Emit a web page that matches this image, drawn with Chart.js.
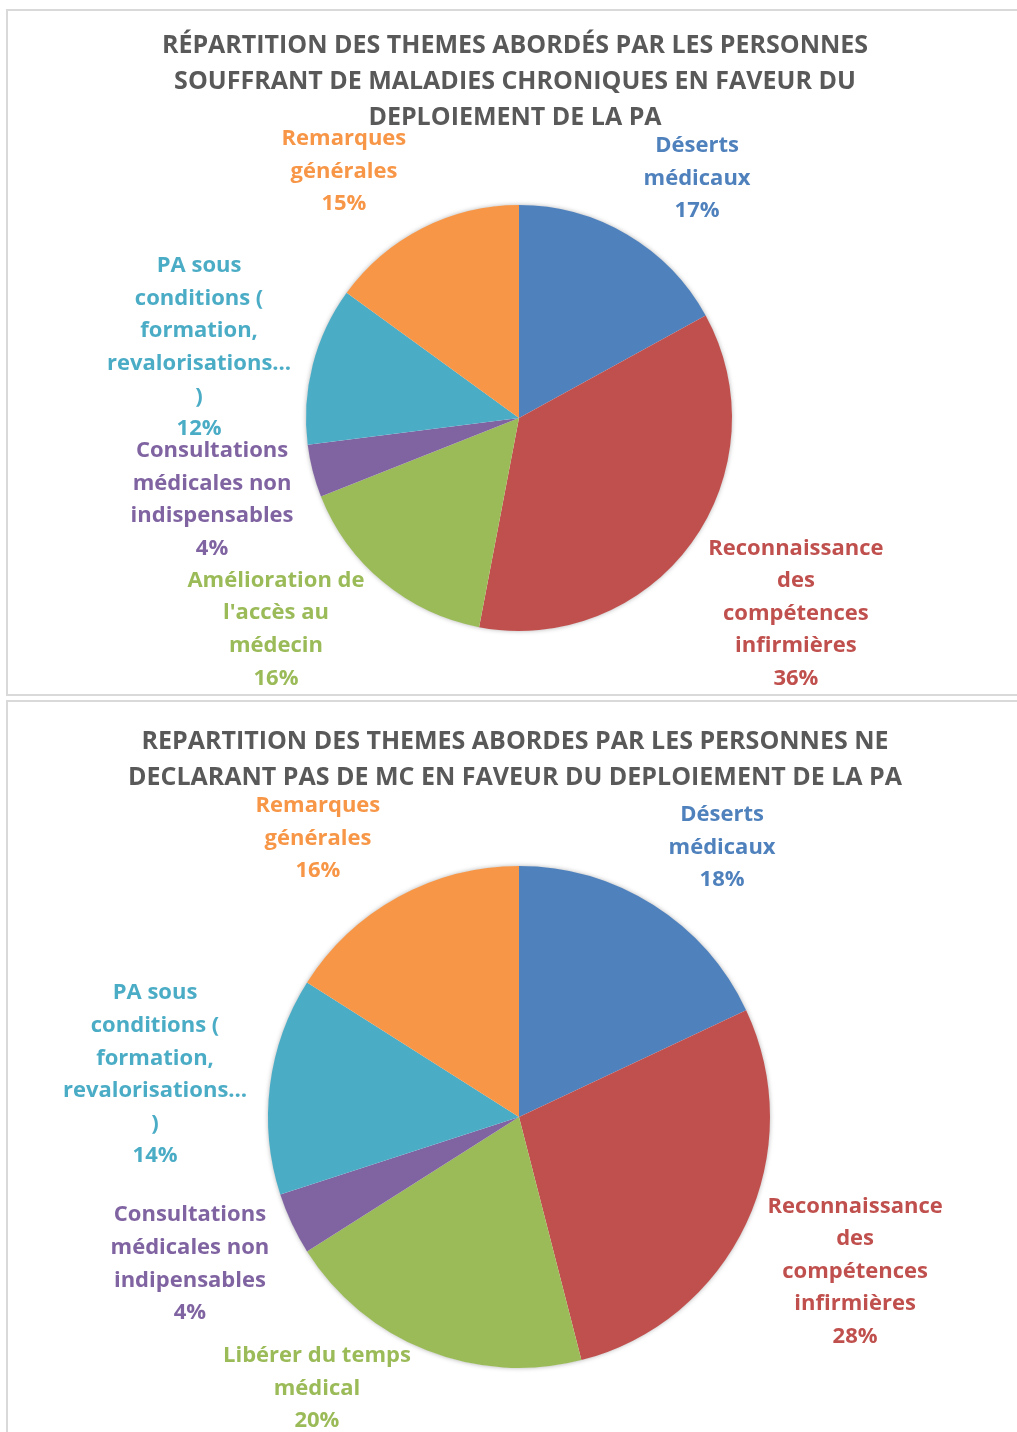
<!DOCTYPE html>
<html><head><meta charset="utf-8">
<script src="https://cdn.jsdelivr.net/npm/chart.js@4"></script>
<style>
html,body{margin:0;padding:0;background:#fff;overflow:hidden;width:1017px;height:1432px;position:relative;}
.box{position:absolute;border:2px solid #d9d9d9;background:#fff;}
#b1{left:6px;top:9px;width:1030px;height:683px;}
#b2{left:6px;top:700px;width:1030px;height:760px;}
canvas{position:absolute;left:0;top:0;}
</style></head><body>
<div class="box" id="b1"><canvas id="c1" width="1009" height="683"></canvas></div>
<div class="box" id="b2"><canvas id="c2" width="1009" height="730"></canvas></div>
<script>
// ---- data ----
const title1 = ["RÉPARTITION DES THEMES ABORDÉS PAR LES PERSONNES", "SOUFFRANT DE MALADIES CHRONIQUES EN FAVEUR DU", "DEPLOIEMENT DE LA PA"];
const categories1 = ["Déserts\nmédicaux", "Reconnaissance\ndes\ncompétences\ninfirmières", "Amélioration de\nl'accès au\nmédecin", "Consultations\nmédicales non\nindispensables", "PA sous\nconditions (\nformation,\nrevalorisations…\n)", "Remarques\ngénérales"];
const values1 = [17, 36, 16, 4, 12, 15];

const title2 = ["REPARTITION DES THEMES ABORDES PAR LES PERSONNES NE", "DECLARANT PAS DE MC EN FAVEUR DU DEPLOIEMENT DE LA PA"];
const categories2 = ["Déserts\nmédicaux", "Reconnaissance\ndes\ncompétences\ninfirmières", "Libérer du temps\nmédical", "Consultations\nmédicales non\nindipensables", "PA sous\nconditions (\nformation,\nrevalorisations…\n)", "Remarques\ngénérales"];
const values2 = [18, 28, 20, 4, 14, 16];

// ---- styles / layout ----
const colors = ["#4F81BD", "#C0504D", "#9BBB59", "#8064A2", "#4BACC6", "#F79646"];
const FONT = "'Open Sans', sans-serif";
// label centre offsets, in units of pie radius, relative to pie centre
const labelPos1 = [[0.836,-1.131],[1.30,0.911],[-1.141,0.986],[-1.441,0.376],[-1.502,-0.338],[-0.822,-1.164]];
const labelPos2 = [[0.809,-1.080],[1.339,0.610],[-0.805,1.076],[-1.311,0.580],[-1.450,-0.175],[-0.801,-1.116]];

const shadowPlugin = {
  id: 'pieShadow',
  beforeDatasetsDraw(chart) {
    const arc = chart.getDatasetMeta(0).data[0];
    if (!arc) return;
    const ctx = chart.ctx;
    ctx.save();
    ctx.shadowColor = 'rgba(0,0,0,0.35)';
    ctx.shadowBlur = 5;
    ctx.fillStyle = '#ffffff';
    ctx.beginPath();
    ctx.arc(arc.x, arc.y, arc.outerRadius - 0.5, 0, Math.PI * 2);
    ctx.fill();
    ctx.restore();
  }
};

const titlePlugin = {
  id: 'bigTitle',
  afterDraw(chart, args, opts) {
    const arc = chart.getDatasetMeta(0).data[0];
    const ctx = chart.ctx;
    ctx.save();
    ctx.font = "bold 25px " + FONT;
    ctx.fillStyle = '#595959';
    ctx.textAlign = 'center';
    ctx.textBaseline = 'middle';
    const x = arc.x - 4;
    opts.text.forEach((t, k) => ctx.fillText(t, x, opts.top + 1.5 + k * 36));
    ctx.restore();
  }
};

const labelPlugin = {
  id: 'outLabels',
  afterDatasetsDraw(chart, args, opts) {
    const meta = chart.getDatasetMeta(0);
    const ctx = chart.ctx;
    const data = chart.data.datasets[0].data;
    ctx.save();
    ctx.font = "bold 22px " + FONT;
    ctx.textAlign = 'center';
    ctx.textBaseline = 'middle';
    meta.data.forEach((arc, i) => {
      const lines = chart.data.labels[i].split('\n').concat([data[i] + '%']);
      const r = arc.outerRadius;
      const cx = arc.x + opts.pos[i][0] * r;
      const cy = arc.y + opts.pos[i][1] * r + 1.5;
      const lh = 32.6;
      ctx.fillStyle = colors[i];
      lines.forEach((t, k) => {
        ctx.fillText(t, cx, cy + (k - (lines.length - 1) / 2) * lh);
      });
    });
    ctx.restore();
  }
};

function makePie(id, title, titleTop, cats, vals, pos, layoutPad) {
  new Chart(document.getElementById(id), {
    type: 'pie',
    data: { labels: cats, datasets: [{ data: vals, backgroundColor: colors, borderWidth: 0, hoverOffset: 0 }] },
    options: {
      responsive: false,
      animation: false,
      layout: { padding: layoutPad },
      plugins: {
        legend: { display: false },
        tooltip: { enabled: false },
        title: { display: false },
        outLabels: { pos: pos },
        bigTitle: { text: title, top: titleTop }
      }
    },
    plugins: [shadowPlugin, labelPlugin, titlePlugin]
  });
}

makePie('c1', title1, 33, categories1, values1, labelPos1, { left: 13, right: 0, top: 194, bottom: 63 });
makePie('c2', title2, 38, categories2, values2, labelPos2, { left: 13, right: 0, top: 164, bottom: 64 });
</script>
</body></html>
